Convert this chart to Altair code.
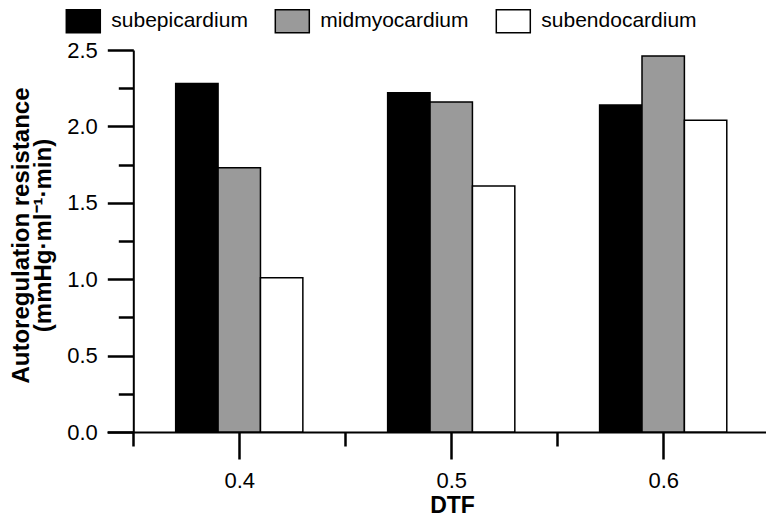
import altair as alt
import pandas as pd

dtf = [0.4, 0.5, 0.6]
series = ["subepicardium", "midmyocardium", "subendocardium"]
subepicardium = [2.28, 2.22, 2.14]
midmyocardium = [1.73, 2.16, 2.46]
subendocardium = [1.01, 1.61, 2.04]
colors = ["#000000", "#9a9a9a", "#ffffff"]
y_major = [0.0, 0.5, 1.0, 1.5, 2.0, 2.5]
y_minor = [0.25, 0.75, 1.25, 1.75, 2.25]
x_major = [0.4, 0.5, 0.6]
x_minor = [0.35, 0.45, 0.55, 0.65]

rows = []
for name, vals in zip(series, [subepicardium, midmyocardium, subendocardium]):
    for d, v in zip(dtf, vals):
        rows.append({"dtf": d, "series": name, "value": v})
df = pd.DataFrame(rows)

series_js = "[" + ",".join("'" + s + "'" for s in series) + "]"
BW = 0.02

base = alt.Chart(df).transform_calculate(
    x0=f"datum.dtf + (indexof({series_js}, datum.series) - 1.5) * {BW}",
    x1=f"datum.dtf + (indexof({series_js}, datum.series) - 0.5) * {BW}",
)

xscale = alt.Scale(domain=[0.3376, 0.6485], nice=False, zero=False)
yscale = alt.Scale(domain=[0, 2.5], nice=False)

bars = base.mark_bar(stroke="black", strokeWidth=1.5).encode(
    x=alt.X("x0:Q", scale=xscale, axis=alt.Axis(
        orient="bottom",
        values=x_major, format=".1f", tickSize=27, tickWidth=2.5, tickColor="black",
        domainWidth=2, domainColor="black", grid=False,
        labelFontSize=22, labelColor="black", labelBaseline="alphabetic", labelPadding=28,
        title="DTF", titleFontSize=23, titleFontWeight="bold", titleColor="black",
        titleX=345, titleY=80, titleBaseline="alphabetic")),
    x2="x1:Q",
    y=alt.Y("value:Q", scale=yscale, axis=alt.Axis(
        orient="left",
        values=y_major, format=".1f", tickSize=26, tickWidth=2.5, tickColor="black",
        domainWidth=2, domainColor="black", grid=False, offset=-26.3,
        labelFontSize=22, labelColor="black", labelPadding=10,
        title=["Autoregulation resistance", "(mmHg·ml⁻¹·min)"],
        titleFontSize=24, titleFontWeight="bold", titleColor="black",
        titleLineHeight=22, titleX=-104.5, titleY=185, titleBaseline="alphabetic")),
    y2=alt.datum(0),
    color=alt.Color("series:N", sort=series,
                    scale=alt.Scale(domain=series, range=colors),
                    legend=alt.Legend(
                        title=None, orient="none", legendX=-41.7, legendY=-47,
                        direction="horizontal",
                        symbolType="M-1,-0.68L1,-0.68L1,0.68L-1,0.68Z",
                        symbolSize=1156, symbolStrokeColor="black", symbolStrokeWidth=1.5,
                        symbolOpacity=1,
                        labelFontSize=21, labelColor="black", labelOffset=10,
                        columnPadding=24, labelLimit=300)),
)

minor = base.mark_rule(opacity=0).encode(
    x=alt.X("dtf:Q", scale=xscale, axis=alt.Axis(
        orient="bottom",
        values=x_minor, tickSize=14, tickWidth=2.5, tickColor="black",
        labels=False, domain=False, grid=False, title=None)),
    y=alt.Y("value:Q", scale=yscale, axis=alt.Axis(
        orient="left",
        values=y_minor, tickSize=15, tickWidth=2.5, tickColor="black",
        labels=False, domain=False, grid=False, offset=-26.3, title=None)),
)

chart = alt.layer(bars, minor).resolve_axis(x="independent", y="independent").properties(
    width=659, height=382,
    autosize=alt.AutoSizeParams(type="none"),
    padding={"left": 99, "top": 42, "right": 0, "bottom": 87},
).configure(font="Liberation Sans").configure_view(stroke=None)

chart.save("out.html", embed_options={"renderer": "svg", "actions": False})
